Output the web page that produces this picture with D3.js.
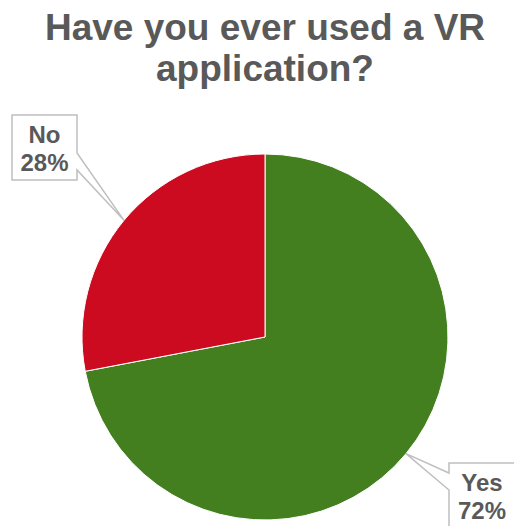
<!DOCTYPE html>
<html>
<head>
<meta charset="utf-8">
<script src="https://cdn.jsdelivr.net/npm/d3@7/dist/d3.min.js"></script>
<style>
  html, body { margin: 0; padding: 0; background: #fff; }
  svg { display: block; font-family: "Liberation Sans", Arial, sans-serif; }
</style>
</head>
<body>
<svg id="chart" width="514" height="526"></svg>
<script>
// Survey answers
const categories = ["Yes", "No"];
const values = [72, 28];
const colors = ["#437f1f", "#cc0a20"];
const titleLines = ["Have you ever used a VR", "application?"];

const W = 514, H = 526;
const cx = 265, cy = 337, R = 183;
const textColor = "#595959";

const svg = d3.select("#chart");

// Title
svg.append("text")
  .attr("x", cx)
  .attr("text-anchor", "middle")
  .attr("fill", textColor)
  .attr("font-weight", "bold")
  .attr("font-size", 37)
  .selectAll("tspan")
  .data(titleLines)
  .join("tspan")
  .attr("x", cx)
  .attr("y", (d, i) => 40 + i * 41)
  .text(d => d);

const data = categories.map((c, i) => ({ category: c, value: values[i], color: colors[i] }));

const pie = d3.pie().value(d => d.value).sort(null);
const arcs = pie(data);
const arc = d3.arc().innerRadius(0).outerRadius(R);
const edgeArc = d3.arc().innerRadius(R).outerRadius(R);

const g = svg.append("g").attr("transform", `translate(${cx},${cy})`);

g.selectAll("path.slice")
  .data(arcs)
  .join("path")
  .attr("class", "slice")
  .attr("d", arc)
  .attr("fill", d => d.data.color)
  .attr("stroke", "#ffffff")
  .attr("stroke-width", 1);

// Callout boxes: box geometry in page coordinates, pointer on one side
const boxLayout = {
  Yes: { x: 449, y: 463, w: 66, h: 66, side: "left", p0: 10, p1: 27 },
  No:  { x: 12,  y: 115, w: 65, h: 65, side: "right", p0: 38, p1: 55 }
};

function calloutPath(b, tip) {
  const x0 = b.x, y0 = b.y, x1 = b.x + b.w, y1 = b.y + b.h;
  if (b.side === "right") {
    return `M${x0},${y0}H${x1}V${y0 + b.p0}L${tip[0]},${tip[1]}L${x1},${y0 + b.p1}V${y1}H${x0}Z`;
  }
  return `M${x0},${y0}H${x1}V${y1}H${x0}V${y0 + b.p1}L${tip[0]},${tip[1]}L${x0},${y0 + b.p0}Z`;
}

const labels = svg.append("g");
arcs.forEach(a => {
  const b = boxLayout[a.data.category];
  const c = edgeArc.centroid(a);
  const tip = [cx + c[0], cy + c[1]];
  labels.append("path")
    .attr("d", calloutPath(b, tip))
    .attr("fill", "#ffffff")
    .attr("stroke", "#bfbfbf")
    .attr("stroke-width", 1.5);
  const pct = Math.round(a.data.value / d3.sum(values) * 100) + "%";
  const t = labels.append("text")
    .attr("text-anchor", "middle")
    .attr("fill", textColor)
    .attr("font-weight", "bold")
    .attr("font-size", 24);
  [a.data.category, pct].forEach((s, i) => {
    t.append("tspan")
      .attr("x", b.x + b.w / 2)
      .attr("y", b.y + 28 + i * 28)
      .text(s);
  });
});
</script>
</body>
</html>
